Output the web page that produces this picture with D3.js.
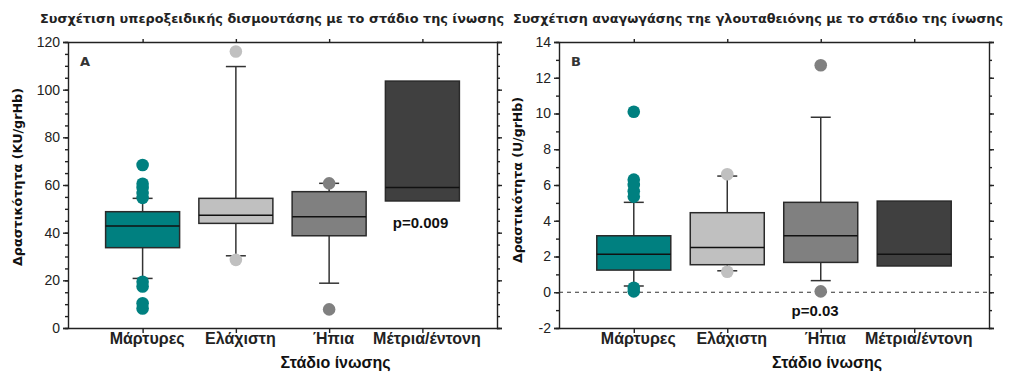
<!DOCTYPE html>
<html>
<head>
<meta charset="utf-8">
<script src="https://cdn.jsdelivr.net/npm/d3@7"></script>
<style>
  body { margin: 0; background: #fff; }
  svg { display: block; font-family: "DejaVu Sans", sans-serif; }
  .tick text { fill: #222; }
</style>
</head>
<body>
<svg id="chart" width="1012" height="374"></svg>
<script>
// categorie (stadio ίνωσης)
const categories = ["Μάρτυρες", "Ελάχιστη", "Ήπια", "Μέτρια/έντονη"];

// Pannello A - SOD (KU/grHb)
const sodQ1 = [33.7, 43.9, 38.7, 53.3];
const sodMedian = [42.8, 47.3, 46.7, 59.0];
const sodQ3 = [48.8, 54.4, 57.2, 103.6];
const sodWhiskerLow = [20.8, 30.3, 18.8, null];
const sodWhiskerHigh = [54.4, 109.7, 60.7, null];
const sodOutliers = [[68.4, 60.5, 58.8, 56.6, 54.6, 19.4, 17.4, 10.4, 8.2], [116, 28.6], [60.7, 7.8], []];
const sodTicks = [0, 20, 40, 60, 80, 100, 120];

// Pannello B - GR (U/grHb)
const grQ1 = [1.24, 1.54, 1.67, 1.47];
const grMedian = [2.12, 2.51, 3.16, 2.12];
const grQ3 = [3.16, 4.45, 5.03, 5.1];
const grWhiskerLow = [0.35, 1.2, 0.65, null];
const grWhiskerHigh = [5.03, 6.5, 9.79, null];
const grOutliers = [[10.1, 6.3, 6.0, 5.65, 5.35, 0.25, 0.05], [6.6, 1.15], [12.7, 0.05], []];
const grTicks = [-2, 0, 2, 4, 6, 8, 10, 12, 14];

const colors = ["#008080", "#c0c0c0", "#808080", "#404040"];

const svg = d3.select("#chart");

function drawPanel(opt) {
  const x = d3.scaleLinear().domain([0.2, 4.8]).range([opt.left, opt.right]);
  const y = d3.scaleLinear().domain(opt.domain).range([328, 42]);
  const g = svg.append("g");

  // titolo
  g.append("text")
    .attr("x", opt.titleX)
    .attr("y", 23)
    .attr("font-size", 13)
    .attr("font-weight", "bold")
    .attr("fill", "#222")
    .attr("textLength", opt.titleLen)
    .attr("lengthAdjust", "spacingAndGlyphs")
    .text(opt.title);

  // assi
  const left = g.append("g").attr("transform", `translate(${opt.left},0)`)
    .call(d3.axisLeft(y).tickValues(opt.ticks).tickSize(5).tickPadding(3).tickFormat(d => String(d)));
  left.selectAll("text").attr("font-size", 14).attr("font-family", "Liberation Sans, sans-serif");
  g.append("g").attr("transform", `translate(${opt.left},0)`)
    .call(d3.axisLeft(y).tickValues(opt.minor).tickSize(3).tickFormat(""))
    .select(".domain").remove();
  g.append("g").attr("transform", `translate(${opt.right},0)`)
    .call(d3.axisRight(y).tickValues(opt.ticks).tickSize(5).tickFormat(""));
  g.append("g").attr("transform", `translate(${opt.right},0)`)
    .call(d3.axisRight(y).tickValues(opt.minor).tickSize(3).tickFormat(""))
    .select(".domain").remove();
  g.append("g").attr("transform", "translate(0,42)")
    .call(d3.axisTop(x).tickValues([1, 2, 3, 4]).tickSize(3).tickFormat("").tickSizeOuter(0));
  const bottom = g.append("g").attr("transform", "translate(0,328)")
    .call(d3.axisBottom(x).tickValues([1, 2, 3, 4]).tickSize(5).tickSizeOuter(0)
      .tickFormat(d => categories[d - 1]));
  bottom.selectAll("text")
    .attr("font-size", 16)
    .attr("font-family", "Liberation Sans, sans-serif")
    .attr("font-weight", "bold")
    .attr("dx", 4)
    .attr("dy", 8);
  g.selectAll(".domain, .tick line").attr("stroke", "#222").attr("stroke-width", 1.4);

  // etichette assi
  g.append("text")
    .attr("x", (opt.left + opt.right) / 2 + 53)
    .attr("y", 368)
    .attr("text-anchor", "middle")
    .attr("font-size", 16)
    .attr("font-family", "Liberation Sans, sans-serif")
    .attr("font-weight", "bold")
    .attr("fill", "#111")
    .text("Στάδιο ίνωσης");

  g.append("text")
    .attr("transform", `translate(${opt.ylabX},${opt.ylabY}) rotate(-90)`)
    .attr("text-anchor", "middle")
    .attr("font-size", 13)
    .attr("font-weight", "bold")
    .attr("fill", "#111")
    .attr("textLength", opt.ylabLen)
    .attr("lengthAdjust", "spacingAndGlyphs")
    .text(opt.ylab);

  g.append("text")
    .attr("x", opt.left + 12)
    .attr("y", 66)
    .attr("font-size", 13)
    .attr("font-weight", "bold")
    .attr("fill", "#333")
    .text(opt.letter);

  // linea tratteggiata a zero
  if (opt.zeroLine) {
    g.append("line")
      .attr("x1", opt.left).attr("x2", opt.right)
      .attr("y1", y(0)).attr("y2", y(0))
      .attr("stroke", "#333")
      .attr("stroke-dasharray", "4,4");
  }

  const data = categories.map((c, i) => ({
    i, c,
    q1: opt.q1[i], med: opt.median[i], q3: opt.q3[i],
    lo: opt.wLow[i], hi: opt.wHigh[i], out: opt.outliers[i]
  }));
  const bw = 74;

  const box = g.selectAll("g.box").data(data).join("g").attr("class", "box");

  // baffi
  box.filter(d => d.hi != null).append("line")
    .attr("x1", d => x(d.i + 1)).attr("x2", d => x(d.i + 1))
    .attr("y1", d => y(d.hi)).attr("y2", d => y(d.lo))
    .attr("stroke", "#333").attr("stroke-width", 1.5);
  box.filter(d => d.hi != null).selectAll("line.cap")
    .data(d => [d.lo, d.hi].map(v => ({ v, i: d.i })))
    .join("line").attr("class", "cap")
    .attr("x1", d => x(d.i + 1) - 10).attr("x2", d => x(d.i + 1) + 10)
    .attr("y1", d => y(d.v)).attr("y2", d => y(d.v))
    .attr("stroke", "#333").attr("stroke-width", 1.5);

  box.append("rect")
    .attr("x", d => x(d.i + 1) - bw / 2)
    .attr("width", bw)
    .attr("y", d => y(d.q3))
    .attr("height", d => y(d.q1) - y(d.q3))
    .attr("fill", d => colors[d.i])
    .attr("stroke", "#2a2a2a")
    .attr("stroke-width", 1.5);

  box.append("line")
    .attr("x1", d => x(d.i + 1) - bw / 2).attr("x2", d => x(d.i + 1) + bw / 2)
    .attr("y1", d => y(d.med)).attr("y2", d => y(d.med))
    .attr("stroke", "#111").attr("stroke-width", 1.5);

  // outlier
  box.selectAll("circle")
    .data(d => d.out.map(v => ({ v, i: d.i })))
    .join("circle")
    .attr("cx", d => x(d.i + 1))
    .attr("cy", d => y(d.v))
    .attr("r", 6.3)
    .attr("fill", d => colors[d.i]);

  // valore p
  g.append("text")
    .attr("x", x(opt.pAt[0]))
    .attr("y", y(opt.pAt[1]))
    .attr("text-anchor", "middle")
    .attr("font-size", 15)
    .attr("font-family", "Liberation Sans, sans-serif")
    .attr("font-weight", "bold")
    .attr("fill", "#111")
    .text(opt.pText);
}

drawPanel({
  left: 68, right: 497, domain: [0, 120],
  ticks: sodTicks, minor: d3.range(0, 121, 5),
  title: "Συσχέτιση υπεροξειδικής δισμουτάσης με το στάδιο της ίνωσης",
  titleX: 40, titleLen: 464,
  ylab: "Δραστικότητα (KU/grHb)", ylabX: 22, ylabY: 177, ylabLen: 178,
  letter: "A",
  q1: sodQ1, median: sodMedian, q3: sodQ3, wLow: sodWhiskerLow, wHigh: sodWhiskerHigh,
  outliers: sodOutliers,
  pText: "p=0.009", pAt: [3.98, 42]
});

drawPanel({
  left: 559, right: 989, domain: [-2, 14],
  ticks: grTicks, minor: d3.range(-2, 15, 1),
  title: "Συσχέτιση αναγωγάσης τηε γλουταθειόνης με το στάδιο της ίνωσης",
  titleX: 513, titleLen: 490,
  ylab: "Δραστικότητα (U/grHb)", ylabX: 522, ylabY: 180, ylabLen: 166,
  letter: "B", zeroLine: true,
  q1: grQ1, median: grMedian, q3: grQ3, wLow: grWhiskerLow, wHigh: grWhiskerHigh,
  outliers: grOutliers,
  pText: "p=0.03", pAt: [2.94, -1.35]
});
</script>
</body>
</html>
